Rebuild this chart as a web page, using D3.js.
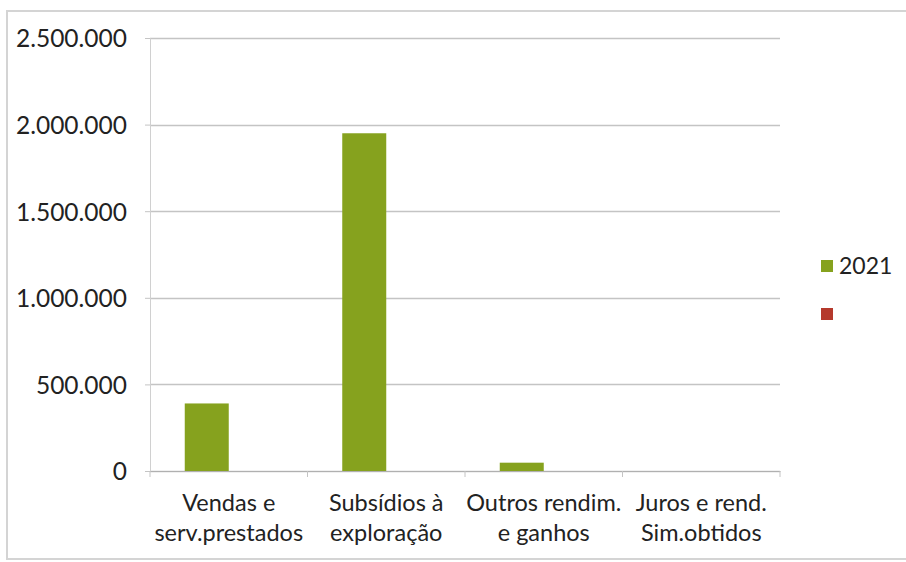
<!DOCTYPE html>
<html>
<head>
<meta charset="utf-8">
<script src="https://cdnjs.cloudflare.com/ajax/libs/d3/7.8.5/d3.min.js"></script>
<style>
  body { margin: 0; background: #fff; }
  svg text { font-family: Lato, "Open Sans", sans-serif; fill: #222; }
</style>
</head>
<body>
<script>
// chart data
var categories = ["Vendas e serv.prestados", "Subsídios à exploração", "Outros rendim. e ganhos", "Juros e rend. Sim.obtidos"];
var labelLines = [["Vendas e", "serv.prestados"], ["Subsídios à", "exploração"], ["Outros rendim.", "e ganhos"], ["Juros e rend.", "Sim.obtidos"]];
var seriesNames = ["2021", ""];
var values2021 = [390000, 1950000, 48000, 0];
var valuesOther = [0, 0, 0, 0];
var yTicks = [0, 500000, 1000000, 1500000, 2000000, 2500000];
var colors = ["#86a21e", "#b5392c"];

var W = 906, H = 562;
var margin = {left: 150, right: 126, top: 38, bottom: 91};
var w = W - margin.left - margin.right,
    h = H - margin.top - margin.bottom;

var svg = d3.select("body").append("svg")
    .attr("width", W)
    .attr("height", H);

// chart frame
svg.append("path")
    .attr("d", "M7,560 L7,11 L906,11 M7,559 L906,559")
    .attr("fill", "none")
    .attr("stroke", "#d4d4d4")
    .attr("stroke-width", 2);

var g = svg.append("g")
    .attr("transform", "translate(" + margin.left + "," + margin.top + ")");

var x = d3.scaleBand().domain(categories).range([0, w]);
var xSub = d3.scaleBand().domain(seriesNames).range([0, x.bandwidth()]).paddingOuter(0.79).paddingInner(0);
var y = d3.scaleLinear().domain([0, 2500000]).range([h, 0]);

var fmt = function(d) { return d3.format(",")(d).replace(/,/g, "."); };

// gridlines
g.selectAll(".grid")
    .data(yTicks)
  .enter().append("line")
    .attr("x1", 0)
    .attr("x2", w)
    .attr("y1", function(d) { return Math.round(y(d)) + 0.5; })
    .attr("y2", function(d) { return Math.round(y(d)) + 0.5; })
    .attr("stroke", "#c4c4c4")
    .attr("stroke-width", 1.3);

// y axis
var yAxis = g.append("g")
    .call(d3.axisLeft(y).tickValues(yTicks).tickFormat(fmt).tickSize(5).tickPadding(18));
yAxis.select(".domain").attr("stroke", "#d0d0d0");
yAxis.selectAll(".tick line").attr("stroke", "#c4c4c4");
yAxis.selectAll("text").style("font-size", "24.5px").attr("dy", "0.36em");

// x axis
var xAxis = g.append("g")
    .attr("transform", "translate(0," + h + ")")
    .call(d3.axisBottom(x).tickValues([]).tickSizeOuter(0));
xAxis.select(".domain").attr("stroke", "#b0b0b0");
xAxis.selectAll(".xt")
    .data(d3.range(categories.length + 1))
  .enter().append("line")
    .attr("class", "xt")
    .attr("x1", function(i) { return i * x.step(); })
    .attr("x2", function(i) { return i * x.step(); })
    .attr("y1", 0)
    .attr("y2", 6)
    .attr("stroke", "#c4c4c4");

// bars
var series = [values2021, valuesOther];
series.forEach(function(vals, s) {
  g.selectAll(".bar" + s)
      .data(vals)
    .enter().append("rect")
      .attr("x", function(d, i) { return x(categories[i]) + xSub(seriesNames[s]); })
      .attr("y", function(d) { return y(d); })
      .attr("width", xSub.bandwidth())
      .attr("height", function(d) { return h - y(d); })
      .attr("fill", colors[s]);
});

// category labels, two lines each
var lab = g.selectAll(".clab")
    .data(categories)
  .enter().append("text")
    .attr("text-anchor", "middle")
    .attr("transform", function(d) { return "translate(" + (x(d) + x.bandwidth() / 2) + "," + (h + 40) + ")"; })
    .style("font-size", "23.5px");
lab.each(function(d, i) {
  var t = d3.select(this);
  labelLines[i].forEach(function(line, k) {
    t.append("tspan").attr("x", 0).attr("y", k * 30).text(line);
  });
});

// legend
var legend = svg.append("g").attr("transform", "translate(821,260)");
seriesNames.forEach(function(name, i) {
  var row = legend.append("g").attr("transform", "translate(0," + (i * 48) + ")");
  row.append("rect").attr("width", 12).attr("height", 12).attr("fill", colors[i]);
  row.append("text").attr("x", 18).attr("y", 14).style("font-size", "23px").text(name);
});
</script>
</body>
</html>
